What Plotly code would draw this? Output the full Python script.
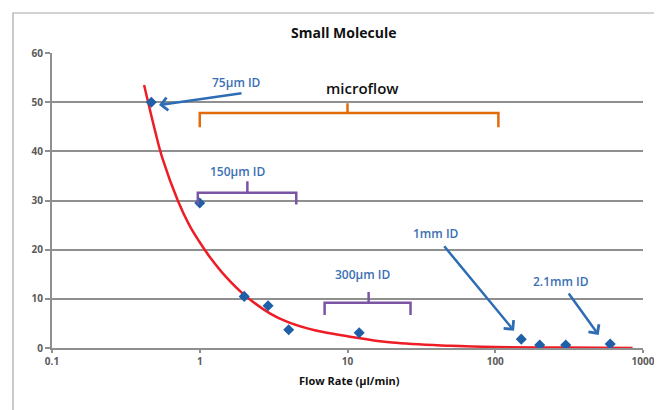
import numpy as np
import plotly.graph_objects as go

# ---- data ----
flow_rate = [0.47, 1.0, 2.0, 2.9, 4.0, 12, 150, 200, 300, 600]
measured = [50, 29.5, 10.5, 8.6, 3.7, 3.1, 1.8, 0.6, 0.6, 0.8]

trend_x = [0.42, 0.5, 0.56, 0.71, 0.85, 1.0, 1.17, 1.5, 2.0, 3.0, 4.0, 6.0, 10, 20, 50, 100, 300, 850]
trend_y = [53.5, 44, 38.5, 30, 25, 21.5, 18.5, 14.5, 10.8, 7.0, 5.2, 3.6, 2.4, 1.1, 0.45, 0.2, 0.08, 0.02]

x_tick_vals = [0.1, 1, 10, 100, 1000]
x_tick_text = ["0.1", "1", "10", "100", "1000"]
y_tick_vals = [0, 10, 20, 30, 40, 50, 60]

# brackets: (x_start, x_end, x_notch, y_bar, y_end, y_notch, colour)
brackets = [
    (1.0, 105, 10, 47.8, 44.9, 49.8, "#E36C0A"),
    (0.97, 4.5, 2.1, 31.6, 29.2, 33.9, "#7B55A3"),
    (7.0, 26.7, 13.9, 9.2, 6.7, 11.4, "#7B55A3"),
]

blue = "#3A70B3"
grid = "#8f8f8f"
tickc = "#5a5a5a"
FONT = "Open Sans"

fig = go.Figure()

fig.add_trace(go.Scatter(x=trend_x, y=trend_y, mode="lines",
                         line=dict(color="#EE1C25", width=2.5, shape="spline"),
                         hoverinfo="skip", showlegend=False))
fig.add_trace(go.Scatter(x=flow_rate, y=measured, mode="markers",
                         marker=dict(symbol="diamond", size=8.5, color="#1F5FA8"),
                         showlegend=False))

for xs, xe, xn, yb, ye, yn, col in brackets:
    bx = [xs, xs, xn, xn, xn, xe, xe]
    by = [ye, yb, yb, yn, yb, yb, ye]
    fig.add_trace(go.Scatter(x=bx, y=by, mode="lines",
                             line=dict(color=col, width=2.5),
                             hoverinfo="skip", showlegend=False))

lg = np.log10
annotations = []
# text labels
labels = [
    ("75µm ID", 1.78, 53.9, blue, 12, 600),
    ("150µm ID", 1.81, 35.9, blue, 12, 600),
    ("300µm ID", 12.6, 14.9, blue, 12, 600),
    ("1mm ID", 39.8, 23.3, blue, 12, 600),
    ("2.1mm ID", 279, 13.5, blue, 12, 600),
    ("microflow", 12.6, 52.9, "#111111", 15, 600),
]
for t, x, y, c, s, w in labels:
    annotations.append(dict(x=lg(x), y=y, xref="x", yref="y", text=t, showarrow=False,
                            xanchor="center", yanchor="middle",
                            font=dict(family=FONT, size=s, color=c, weight=w)))
# arrows: head position (data), tail offset in px
arrows = [
    (0.53, 49.4, 84, -12),
    (134, 3.5, -71, -86),
    (501, 2.65, -31, -43),
]
for x, y, ax, ay in arrows:
    annotations.append(dict(x=lg(x), y=y, xref="x", yref="y", ax=ax, ay=ay, text="",
                            showarrow=True, arrowhead=4, arrowsize=1, arrowwidth=2.5,
                            arrowcolor="#2E6DB4", standoff=0))

annotations.append(dict(x=0.493, y=1.071, xref="paper", yref="paper", text="<b>Small Molecule</b>",
                        showarrow=False, xanchor="center", yanchor="middle",
                        font=dict(family=FONT, size=14, color="#111111")))
annotations.append(dict(x=0.504, y=-0.11, xref="paper", yref="paper", text="<b>Flow Rate (µl/min)</b>",
                        showarrow=False, xanchor="center", yanchor="middle",
                        font=dict(family=FONT, size=11, color="#111111")))

# the page body adds an 8px offset, so the figure is 8px smaller on each side
fig.update_layout(
    width=654, height=402,
    margin=dict(l=44, r=19, t=45, b=62),
    paper_bgcolor="white", plot_bgcolor="white",
    annotations=annotations,
    shapes=[dict(type="rect", xref="paper", yref="paper", x0=-0.066, y0=-0.4, x1=1.3, y1=1.1356,
                 line=dict(color="#a6a6a6", width=1.2), layer="below")],
    xaxis=dict(type="log", range=[-1, 3], tickvals=x_tick_vals, ticktext=x_tick_text,
               automargin=False,
               showgrid=False, zeroline=False, showline=True, linecolor=grid, linewidth=2,
               ticks="outside", ticklen=3, tickcolor=grid, tickwidth=1.5,
               tickfont=dict(family=FONT, size=10, color=tickc, weight="bold")),
    yaxis=dict(range=[0, 60], tickvals=y_tick_vals, showgrid=True, gridcolor=grid, gridwidth=1.8,
               automargin=False,
               zeroline=False, showline=True, linecolor=grid, linewidth=2,
               ticks="outside", ticklen=5, tickcolor=grid, tickwidth=1.5,
               tickfont=dict(family=FONT, size=10, color=tickc, weight="bold")),
)

fig.write_html("out.html")
